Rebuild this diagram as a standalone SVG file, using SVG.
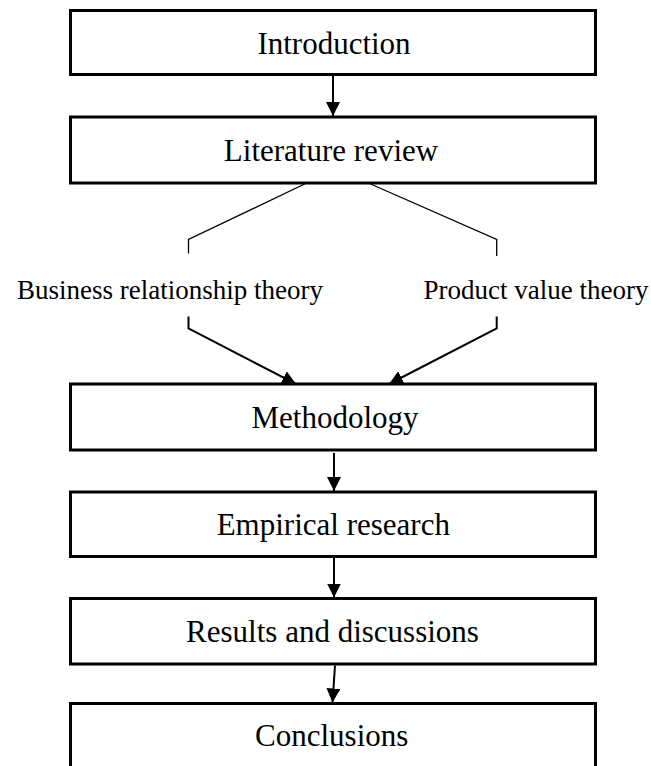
<svg xmlns="http://www.w3.org/2000/svg" width="651" height="766" viewBox="0 0 651 766">
  <style>
    .box { fill: #ffffff; stroke: #000000; stroke-width: 3; }
    .label { font-family: "Liberation Serif", "Times New Roman", serif; font-size: 31px; fill: #000000; text-anchor: middle; }
    .side { font-family: "Liberation Serif", "Times New Roman", serif; font-size: 27px; fill: #000000; text-anchor: middle; }
    .arrow { fill: none; stroke: #000000; stroke-width: 2; }
    .branch { fill: none; stroke: #000000; stroke-width: 1.3; }
  </style>
  <defs>
    <marker id="head" markerUnits="userSpaceOnUse" markerWidth="15" markerHeight="15" refX="14" refY="7" orient="auto">
      <path d="M0,0 L14,7 L0,14 z" fill="#000000"/>
    </marker>
  </defs>
  <rect width="651" height="766" fill="#ffffff"/>

  <g id="connectors">
    <line class="arrow" x1="333" y1="76" x2="333" y2="116" marker-end="url(#head)"/>
    <polyline class="branch" points="306.7,183 188.5,239.5 188.5,253.5"/>
    <polyline class="branch" points="368.3,183 496.7,239.5 496.7,256"/>
    <polyline class="arrow" points="188.5,316.5 188.5,328.5 296,384" marker-end="url(#head)"/>
    <polyline class="arrow" points="496.7,316.5 496.7,328.5 389,384" marker-end="url(#head)"/>
    <line class="arrow" x1="334" y1="453" x2="334" y2="491" marker-end="url(#head)"/>
    <line class="arrow" x1="334" y1="558" x2="334" y2="597.5" marker-end="url(#head)"/>
    <line class="arrow" x1="335" y1="665.5" x2="332.5" y2="702.5" marker-end="url(#head)"/>
  </g>

  <g id="introduction">
    <rect class="box" x="70.5" y="10.5" width="525" height="64"/>
    <text class="label" x="334" y="54">Introduction</text>
  </g>
  <g id="literature-review">
    <rect class="box" x="70.5" y="117" width="525" height="66"/>
    <text class="label" x="331" y="161">Literature review</text>
  </g>
  <g id="business-relationship-theory">
    <text class="side" x="170" y="299">Business relationship theory</text>
  </g>
  <g id="product-value-theory">
    <text class="side" x="536" y="299">Product value theory</text>
  </g>
  <g id="methodology">
    <rect class="box" x="70.5" y="384" width="525" height="66"/>
    <text class="label" x="335" y="428">Methodology</text>
  </g>
  <g id="empirical-research">
    <rect class="box" x="70.5" y="492" width="525" height="64.5"/>
    <text class="label" x="333.3" y="535">Empirical research</text>
  </g>
  <g id="results-and-discussions">
    <rect class="box" x="70.5" y="598.5" width="525" height="65.5"/>
    <text class="label" x="332.5" y="642">Results and discussions</text>
  </g>
  <g id="conclusions">
    <rect class="box" x="70.5" y="703.5" width="525" height="70"/>
    <text class="label" x="331.7" y="746">Conclusions</text>
  </g>
</svg>
